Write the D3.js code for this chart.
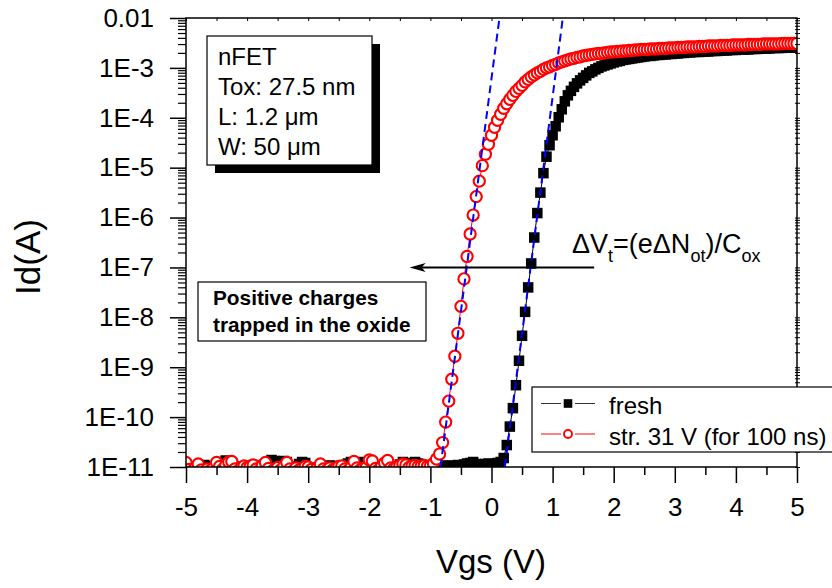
<!DOCTYPE html>
<html><head><meta charset="utf-8">
<script src="https://cdn.jsdelivr.net/npm/d3@7"></script>
<style>
html,body{margin:0;padding:0;background:#fff;}
svg{display:block;font-family:"Liberation Sans",Arial,Helvetica,sans-serif;}
</style></head><body>
<svg id="chart" width="832" height="588"></svg>
<script>
// ---------------- data ----------------
const vgs = [
-5,-4.95,-4.9,-4.85,-4.8,-4.75,-4.7,-4.65,-4.6,-4.55,
-4.5,-4.45,-4.4,-4.35,-4.3,-4.25,-4.2,-4.15,-4.1,-4.05,
-4,-3.95,-3.9,-3.85,-3.8,-3.75,-3.7,-3.65,-3.6,-3.55,
-3.5,-3.45,-3.4,-3.35,-3.3,-3.25,-3.2,-3.15,-3.1,-3.05,
-3,-2.95,-2.9,-2.85,-2.8,-2.75,-2.7,-2.65,-2.6,-2.55,
-2.5,-2.45,-2.4,-2.35,-2.3,-2.25,-2.2,-2.15,-2.1,-2.05,
-2,-1.95,-1.9,-1.85,-1.8,-1.75,-1.7,-1.65,-1.6,-1.55,
-1.5,-1.45,-1.4,-1.35,-1.3,-1.25,-1.2,-1.15,-1.1,-1.05,
-1,-0.95,-0.9,-0.85,-0.8,-0.75,-0.7,-0.65,-0.6,-0.55,
-0.5,-0.45,-0.4,-0.35,-0.3,-0.25,-0.2,-0.15,-0.1,-0.05,
0,0.05,0.1,0.15,0.2,0.25,0.3,0.35,0.4,0.45,
0.5,0.55,0.6,0.65,0.7,0.75,0.8,0.85,0.9,0.95,
1,1.05,1.1,1.15,1.2,1.25,1.3,1.35,1.4,1.45,
1.5,1.55,1.6,1.65,1.7,1.75,1.8,1.85,1.9,1.95,
2,2.05,2.1,2.15,2.2,2.25,2.3,2.35,2.4,2.45,
2.5,2.55,2.6,2.65,2.7,2.75,2.8,2.85,2.9,2.95,
3,3.05,3.1,3.15,3.2,3.25,3.3,3.35,3.4,3.45,
3.5,3.55,3.6,3.65,3.7,3.75,3.8,3.85,3.9,3.95,
4,4.05,4.1,4.15,4.2,4.25,4.3,4.35,4.4,4.45,
4.5,4.55,4.6,4.65,4.7,4.75,4.8,4.85,4.9,4.95,
5];

// log10(Id [A]) of the fresh device
const freshLog10Id = [
-10.97,-11.03,-10.99,-11.06,-10.98,-11.04,-10.96,-10.98,-11.02,-11.05,
-11.01,-10.99,-10.90,-10.87,-10.97,-11.03,-11.08,-11.02,-10.99,-11.04,
-11.06,-10.98,-10.96,-11.01,-11.05,-11.00,-10.97,-10.92,-10.86,-10.88,
-10.95,-11.02,-10.88,-10.90,-11.03,-11.06,-10.99,-10.94,-10.90,-10.92,
-11.04,-11.07,-11.01,-11.03,-10.98,-11.05,-10.99,-10.97,-10.98,-11.02,
-11.06,-11.03,-10.99,-10.93,-10.90,-10.91,-11.02,-10.92,-10.90,-11.01,
-11.05,-11.03,-10.99,-11.04,-11.02,-10.98,-11.03,-11.06,-11.01,-10.99,
-10.95,-10.90,-10.92,-11.00,-10.96,-10.90,-10.93,-11.01,-10.98,-11.02,
-10.99,-10.97,-10.98,-11.00,-10.97,-10.99,-10.98,-10.97,-10.98,-10.96,
-10.97,-10.95,-10.93,-10.92,-10.90,-10.94,-10.96,-10.97,-10.94,-10.93,
-10.95,-10.94,-10.92,-10.90,-10.82,-10.56,-10.19,-9.82,-9.36,-8.87,
-8.37,-7.89,-7.40,-6.92,-6.40,-5.91,-5.50,-5.11,-4.78,-4.55,
-4.35,-4.17,-3.99,-3.83,-3.67,-3.55,-3.46,-3.38,-3.31,-3.25,
-3.20,-3.15,-3.10,-3.07,-3.03,-3.00,-2.97,-2.95,-2.93,-2.91,
-2.89,-2.87,-2.86,-2.84,-2.83,-2.82,-2.81,-2.80,-2.79,-2.78,
-2.77,-2.76,-2.76,-2.75,-2.74,-2.74,-2.73,-2.73,-2.72,-2.72,
-2.71,-2.71,-2.70,-2.70,-2.69,-2.69,-2.68,-2.68,-2.68,-2.67,
-2.67,-2.67,-2.66,-2.66,-2.66,-2.65,-2.65,-2.65,-2.64,-2.64,
-2.64,-2.63,-2.63,-2.63,-2.63,-2.62,-2.62,-2.62,-2.61,-2.61,
-2.61,-2.61,-2.60,-2.60,-2.60,-2.60,-2.59,-2.59,-2.59,-2.59,
-2.59];

// log10(Id [A]) after stress at 31 V for 100 ns
const stressLog10Id = [
-10.91,-11.05,-11.08,-11.03,-10.94,-11.06,-11.10,-11.04,-11.07,-11.02,
-10.91,-10.99,-11.05,-10.97,-10.90,-10.89,-11.04,-11.08,-11.03,-10.98,
-11.01,-10.99,-10.96,-11.04,-11.07,-10.97,-10.91,-11.03,-11.09,-11.05,
-11.01,-11.06,-10.99,-10.91,-11.04,-11.08,-11.02,-11.06,-11.03,-10.99,
-11.00,-11.05,-11.09,-11.02,-10.94,-11.04,-11.07,-11.02,-11.06,-11.03,
-10.99,-10.98,-11.04,-11.07,-11.01,-10.89,-11.02,-11.06,-11.03,-11.01,
-10.86,-10.88,-11.03,-11.06,-10.99,-10.92,-10.87,-11.02,-11.04,-11.00,
-10.97,-10.94,-10.96,-11.01,-10.98,-10.97,-10.99,-10.98,-10.97,-10.99,
-10.98,-10.93,-10.84,-10.74,-10.51,-10.10,-9.68,-9.24,-8.78,-8.32,
-7.78,-7.23,-6.78,-6.33,-5.95,-5.58,-5.27,-4.96,-4.73,-4.53,
-4.35,-4.19,-4.05,-3.93,-3.81,-3.72,-3.63,-3.55,-3.47,-3.41,
-3.35,-3.28,-3.23,-3.18,-3.14,-3.10,-3.07,-3.03,-3.00,-2.98,
-2.95,-2.93,-2.90,-2.88,-2.86,-2.84,-2.82,-2.81,-2.79,-2.78,
-2.76,-2.75,-2.74,-2.73,-2.72,-2.71,-2.71,-2.70,-2.69,-2.68,
-2.68,-2.67,-2.67,-2.66,-2.66,-2.65,-2.65,-2.64,-2.64,-2.63,
-2.63,-2.63,-2.62,-2.62,-2.62,-2.61,-2.61,-2.61,-2.60,-2.60,
-2.60,-2.59,-2.59,-2.59,-2.58,-2.58,-2.58,-2.58,-2.57,-2.57,
-2.57,-2.56,-2.56,-2.56,-2.56,-2.55,-2.55,-2.55,-2.55,-2.54,
-2.54,-2.54,-2.54,-2.54,-2.53,-2.53,-2.53,-2.53,-2.53,-2.52,
-2.52,-2.52,-2.52,-2.52,-2.52,-2.51,-2.51,-2.51,-2.51,-2.51,
-2.51];

// subthreshold-slope fit lines (Vgs, Id)
const fitFreshVgs = [0.218, 1.167];
const fitStressVgs = [-0.835, 0.13];
const fitId = [1e-11, 1e-2];

// arrow annotation (at Id = 1E-7)
const arrowVgs = [1.68, -1.34];
const arrowId = 1e-7;

const xTickValues = [-5,-4,-3,-2,-1,0,1,2,3,4,5];
const xTickLabels = ["-5","-4","-3","-2","-1","0","1","2","3","4","5"];
const yTickValues = [1e-11,1e-10,1e-9,1e-8,1e-7,1e-6,1e-5,1e-4,1e-3,1e-2];
const yTickLabels = ["1E-11","1E-10","1E-9","1E-8","1E-7","1E-6","1E-5","1E-4","1E-3","0.01"];
const seriesNames = ["fresh", "str. 31 V (for 100 ns)"];
const infoLines = ["nFET", "Tox: 27.5 nm", "L: 1.2 \u03bcm", "W: 50 \u03bcm"];
const noteLines = ["Positive charges", "trapped in the oxide"];
const xTitle = "Vgs (V)";
const yTitle = "Id(A)";

// ---------------- chart ----------------
const L = 186, R = 797, T = 18, B = 467;
const x = d3.scaleLinear().domain([-5, 5]).range([L, R]);
const y = d3.scaleLog().domain([1e-11, 1e-2]).range([B, T]);
const svg = d3.select("#chart");
const FONT = "'Liberation Sans',Arial,Helvetica,sans-serif";

svg.append("defs").append("clipPath").attr("id", "plotclip")
  .append("rect").attr("x", L).attr("y", T).attr("width", R - L).attr("height", B - T);

const minorY = [];
for (let e = -11; e < -2; e++) for (let k = 2; k <= 9; k++) minorY.push(k * Math.pow(10, e));
const halfX = [];
for (let v = -5; v <= 5.001; v += 0.5) halfX.push(+v.toFixed(1));
const minorX = halfX.filter(v => Math.abs(v % 1) > 0.1);

function styleAxis(g, w) {
  g.select(".domain").remove();
  g.selectAll(".tick line").attr("stroke", "#000").attr("stroke-width", w);
  g.selectAll("text").attr("font-family", FONT).attr("fill", "#000");
}

// data series
const plot = svg.append("g").attr("clip-path", "url(#plotclip)");
const fresh = vgs.map((v, i) => ({ v, id: Math.pow(10, freshLog10Id[i]) }));
const stress = vgs.map((v, i) => ({ v, id: Math.pow(10, stressLog10Id[i]) }));
const line = d3.line().x(d => x(d.v)).y(d => y(d.id));

const SQ = 10.5;
plot.append("path").datum(fresh).attr("d", line)
  .attr("fill", "none").attr("stroke", "#000").attr("stroke-width", 1);
plot.append("g").selectAll("rect").data(fresh).join("rect")
  .attr("x", d => x(d.v) - SQ / 2).attr("y", d => y(d.id) - SQ / 2)
  .attr("width", SQ).attr("height", SQ).attr("fill", "#000");

plot.append("path").datum(stress).attr("d", line)
  .attr("fill", "none").attr("stroke", "#ff0000").attr("stroke-width", 1);
plot.append("g").selectAll("circle").data(stress).join("circle")
  .attr("cx", d => x(d.v)).attr("cy", d => y(d.id)).attr("r", 5.6)
  .attr("fill", "#fff").attr("stroke", "#ff0000").attr("stroke-width", 2.1);

// fit lines
[fitFreshVgs, fitStressVgs].forEach(f => {
  plot.append("line")
    .attr("x1", x(f[0])).attr("y1", y(fitId[0]))
    .attr("x2", x(f[1])).attr("y2", y(fitId[1]))
    .attr("stroke", "#0000ff").attr("stroke-width", 2)
    .attr("stroke-dasharray", "8,5");
});

// axes
const gx = svg.append("g").attr("transform", `translate(0,${B})`)
  .call(d3.axisBottom(x).tickValues(xTickValues).tickSize(16).tickPadding(15)
    .tickFormat((d, i) => xTickLabels[i]));
styleAxis(gx, 1.5);
gx.selectAll("text").attr("font-size", 26);
const gxm = svg.append("g").attr("transform", `translate(0,${B})`)
  .call(d3.axisBottom(x).tickValues(minorX).tickSize(8).tickFormat(""));
styleAxis(gxm, 1.5);

const gy = svg.append("g").attr("transform", `translate(${L},0)`)
  .call(d3.axisLeft(y).tickValues(yTickValues).tickSize(16).tickPadding(16)
    .tickFormat((d, i) => yTickLabels[i]));
styleAxis(gy, 1.5);
gy.selectAll("text").attr("font-size", 26);
const gym = svg.append("g").attr("transform", `translate(${L},0)`)
  .call(d3.axisLeft(y).tickValues(minorY).tickSize(8).tickFormat(""));
styleAxis(gym, 1.2);

// top & right small ticks
const gt = svg.append("g").attr("transform", `translate(0,${T})`)
  .call(d3.axisTop(x).tickValues(halfX).tickSize(-3).tickFormat(""));
styleAxis(gt, 1);
const gr = svg.append("g").attr("transform", `translate(${R},0)`)
  .call(d3.axisRight(y).tickValues(yTickValues.concat(minorY)).tickSize(3).tickFormat(""));
styleAxis(gr, 1);
gr.selectAll(".tick line").attr("x1", -2);

// frame
svg.append("rect").attr("x", L).attr("y", T).attr("width", R - L).attr("height", B - T)
  .attr("fill", "none").attr("stroke", "#000").attr("stroke-width", 1.5);

// axis titles
svg.append("text").attr("x", 491).attr("y", 573).attr("text-anchor", "middle")
  .attr("font-size", 33).attr("font-family", FONT).text(xTitle);
svg.append("text").attr("transform", "translate(39.5,257) rotate(-90)")
  .attr("text-anchor", "middle").attr("font-size", 35).attr("font-family", FONT).text(yTitle);

// info box with shadow
svg.append("rect").attr("x", 215).attr("y", 44).attr("width", 165).attr("height", 129).attr("fill", "#000");
svg.append("rect").attr("x", 207).attr("y", 36).attr("width", 165).attr("height", 129)
  .attr("fill", "#fff").attr("stroke", "#000").attr("stroke-width", 1.2);
svg.append("g").selectAll("text").data(infoLines).join("text")
  .attr("x", 218).attr("y", (d, i) => 65 + i * 30)
  .attr("font-size", 24).attr("font-family", FONT).text(d => d);

// note box
svg.append("rect").attr("x", 198).attr("y", 282).attr("width", 228).attr("height", 59)
  .attr("fill", "#fff").attr("stroke", "#000").attr("stroke-width", 1.2);
svg.append("g").selectAll("text").data(noteLines).join("text")
  .attr("x", 213).attr("y", (d, i) => 305 + i * 26.5)
  .attr("font-size", 20.8).attr("font-weight", "bold").attr("font-family", FONT).text(d => d);

// arrow
const ay = y(arrowId);
svg.append("line").attr("x1", x(arrowVgs[0])).attr("y1", ay)
  .attr("x2", x(arrowVgs[1]) + 12).attr("y2", ay).attr("stroke", "#000").attr("stroke-width", 2);
const tipX = x(arrowVgs[1]);
svg.append("path").attr("d", `M${tipX},${ay} L${tipX + 16},${ay - 4.5} L${tipX + 12},${ay} L${tipX + 16},${ay + 4.5} Z`)
  .attr("fill", "#000");

// delta Vt annotation
const ann = svg.append("text").attr("x", 572).attr("y", 253).attr("font-size", 27).attr("font-family", FONT);
const parts = [["\u0394V", 0], ["t", 1], ["=(e\u0394N", 0], ["ot", 1], [")/C", 0], ["ox", 1]];
let prevSub = 0;
parts.forEach(([t, sub]) => {
  ann.append("tspan").attr("dy", sub === prevSub ? 0 : (sub ? 9 : -9))
    .attr("font-size", sub ? 18 : 27).text(t);
  prevSub = sub;
});

// legend
const lg = svg.append("g");
lg.append("rect").attr("x", 532).attr("y", 387).attr("width", 320).attr("height", 65)
  .attr("fill", "#fff").attr("stroke", "#000").attr("stroke-width", 1.2);
const rows = [403.5, 434];
rows.forEach((ry, i) => {
  [[541, 561], [575, 595]].forEach(([a, b]) => {
    lg.append("line").attr("x1", a).attr("x2", b).attr("y1", ry).attr("y2", ry)
      .attr("stroke", i ? "#ff0000" : "#333").attr("stroke-width", 1);
  });
  if (i === 0) {
    lg.append("rect").attr("x", 568 - 4.3).attr("y", ry - 4.3).attr("width", 8.6).attr("height", 8.6).attr("fill", "#000");
  } else {
    lg.append("circle").attr("cx", 568).attr("cy", ry).attr("r", 4).attr("fill", "#fff")
      .attr("stroke", "#ff0000").attr("stroke-width", 1.9);
  }
  lg.append("text").attr("x", 609).attr("y", ry + 10.5).attr("font-size", 24)
    .attr("font-family", FONT).text(seriesNames[i]);
});
</script>
</body></html>
